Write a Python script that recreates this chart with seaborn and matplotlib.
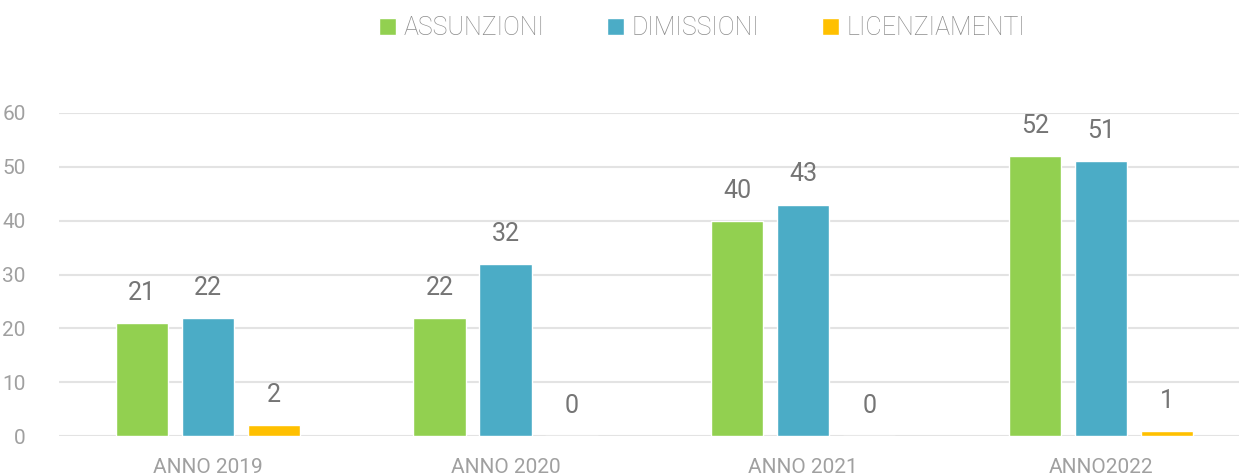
import matplotlib
matplotlib.use("Agg")
import matplotlib.pyplot as plt
import seaborn as sns
import pandas as pd

years = ["ANNO 2019", "ANNO 2020", "ANNO 2021", "ANNO2022"]
series = ["ASSUNZIONI", "DIMISSIONI", "LICENZIAMENTI"]
assunzioni = [21, 22, 40, 52]
dimissioni = [22, 32, 43, 51]
licenziamenti = [2, 0, 0, 1]
colors = ["#92D050", "#4BACC6", "#FFC000"]
yticks = [0, 10, 20, 30, 40, 50, 60]

rows = []
for name, vals in zip(series, [assunzioni, dimissioni, licenziamenti]):
    for y, v in zip(years, vals):
        rows.append({"anno": y, "serie": name, "valore": v})
df = pd.DataFrame(rows)

sns.set_theme(style="white")
plt.rcParams["font.family"] = ["Roboto", "DejaVu Sans"]

fig = plt.figure(figsize=(12.39, 4.74), dpi=100)
ax = fig.add_axes([59 / 1239, 1 - 436 / 474, 1 - 59 / 1239, (436 - 113) / 474])

sns.barplot(data=df, x="anno", y="valore", hue="serie", order=years,
            hue_order=series, palette=colors, width=0.666, gap=0.21,
            saturation=1, ax=ax, legend=True)

ax.set_ylim(0, 60)
ax.set_xlim(-0.5, 3.464)
ax.set_yticks(yticks)
ax.grid(axis="y", color="#E3E3E3", linewidth=1.5)
ax.set_axisbelow(True)
for s in ax.spines.values():
    s.set_visible(False)
ax.set_xlabel("")
ax.set_ylabel("")
ax.tick_params(axis="y", length=0, pad=24, labelsize=15, labelcolor="#A0A0A0")
ax.tick_params(axis="x", length=0, pad=16, labelsize=15, labelcolor="#A0A0A0")

for cont in ax.containers:
    ax.bar_label(cont, padding=13, fontsize=18, color="#757575")

handles, labs = ax.get_legend_handles_labels()
ax.get_legend().remove()
leg = fig.legend(handles, labs, loc="center", bbox_to_anchor=(0.567, 1 - 28 / 474),
                 ncol=3, frameon=False, fontsize=18, handlelength=0.68,
                 handleheight=0.68, handletextpad=0.3, columnspacing=2.5,
                 borderaxespad=0)
for t in leg.get_texts():
    t.set_color("#8C8C8C")
    t.set_fontweight("light")

fig.savefig("out.png", dpi=100)
